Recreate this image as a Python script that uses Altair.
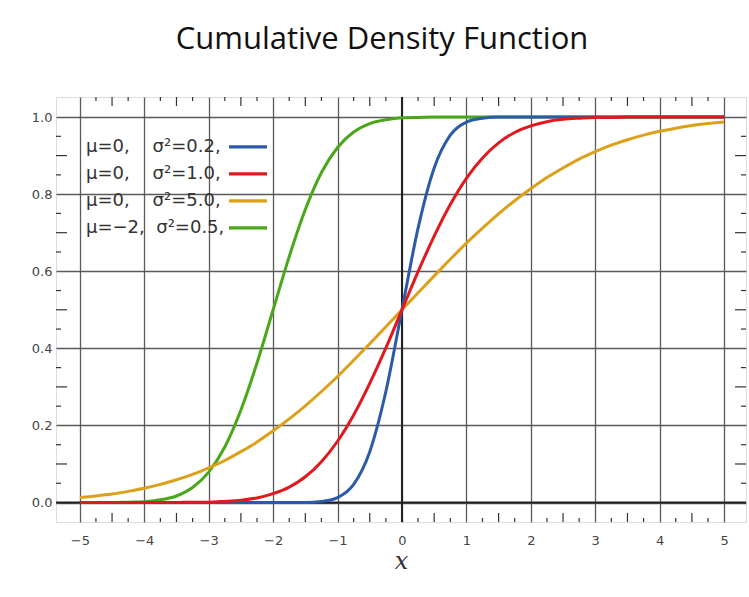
import altair as alt
import pandas as pd

# ---------------- data ----------------
xs = [-5, -4.75, -4.5, -4.25, -4, -3.75, -3.5, -3.25, -3, -2.75, -2.5, -2.25,
      -2, -1.75, -1.5, -1.25, -1, -0.75, -0.5, -0.25, 0, 0.25, 0.5, 0.75, 1,
      1.25, 1.5, 1.75, 2, 2.25, 2.5, 2.75, 3, 3.25, 3.5, 3.75, 4, 4.25, 4.5,
      4.75, 5]

blue = [0, 0, 0, 0, 0, 0, 0, 0, 0, 0, 0, 0, 0, 0,
        0.000, 0.003, 0.013, 0.047, 0.132, 0.288, 0.5,
        0.712, 0.868, 0.953, 0.987, 0.997, 1.000,
        1, 1, 1, 1, 1, 1, 1, 1, 1, 1, 1, 1, 1, 1]

red = [0, 0, 0, 0, 0,
       0.000, 0.000, 0.001, 0.001, 0.003, 0.006, 0.012, 0.023, 0.040, 0.067,
       0.106, 0.159, 0.227, 0.309, 0.401, 0.5,
       0.599, 0.691, 0.773, 0.841, 0.894, 0.933, 0.960, 0.977, 0.988, 0.994,
       0.997, 0.999, 0.999, 1.0, 1.0,
       1, 1, 1, 1, 1]

orange = [0.013, 0.017, 0.022, 0.029, 0.037, 0.047, 0.059, 0.073, 0.090, 0.109,
          0.132, 0.157, 0.186, 0.217, 0.251, 0.288, 0.327, 0.369, 0.412, 0.456,
          0.5,
          0.544, 0.588, 0.631, 0.673, 0.712, 0.749, 0.783, 0.814, 0.843, 0.868,
          0.891, 0.910, 0.927, 0.941, 0.953, 0.963, 0.971, 0.978, 0.983, 0.987]

green = [0.000, 0.000, 0.000, 0.001, 0.002, 0.007, 0.017, 0.039, 0.079, 0.144,
         0.240, 0.362, 0.5, 0.638, 0.760, 0.856, 0.921, 0.961, 0.983, 0.993,
         0.998, 0.999, 1.0,
         1, 1, 1, 1, 1, 1, 1, 1, 1, 1, 1, 1, 1, 1, 1, 1, 1, 1]

NB = "\u00a0"
labels = ["μ=0," + NB * 4 + "σ²=0.2,",
          "μ=0," + NB * 4 + "σ²=1.0,",
          "μ=0," + NB * 4 + "σ²=5.0,",
          "μ=−2," + NB * 2 + "σ²=0.5,"]
colors = ["#2b5ba8", "#e0191f", "#dca01a", "#4ba71a"]

x_major = [-5, -4, -3, -2, -1, 0, 1, 2, 3, 4, 5]
y_major = [0, 0.2, 0.4, 0.6, 0.8, 1.0]
x_minor_short = [-4.75, -4.25, -3.75, -3.25, -2.75, -2.25, -1.75, -1.25, -0.75,
                 -0.25, 0.25, 0.75, 1.25, 1.75, 2.25, 2.75, 3.25, 3.75, 4.25, 4.75]
x_minor_long = [-4.5, -3.5, -2.5, -1.5, -0.5, 0.5, 1.5, 2.5, 3.5, 4.5]
y_minor_short = [0.05, 0.15, 0.25, 0.35, 0.45, 0.55, 0.65, 0.75, 0.85, 0.95]
y_minor_long = [0.1, 0.3, 0.5, 0.7, 0.9]

# ---------------- layout ----------------
W, H = 690, 425
XDOM = [-5.37, 5.34]
YDOM = [-0.0505, 1.052]
FRAME = "#333333"
GRID = "#5a5a5a"

# draw order: green, blue, orange, red (red on top)
draw_order = [(3, green), (0, blue), (2, orange), (1, red)]
rows = []
for idx, ys in draw_order:
    for xv, yv in zip(xs, ys):
        rows.append({"x": xv, "y": yv, "series": labels[idx], "lab": labels[idx]})
df = pd.DataFrame(rows)

xscale = alt.Scale(domain=XDOM, nice=False, zero=False)
yscale = alt.Scale(domain=YDOM, nice=False, zero=False)

xaxis = alt.Axis(values=x_major, grid=True, gridColor=GRID, gridWidth=1.3,
                 gridOpacity=1, ticks=False, domain=False, labelPadding=12,
                 labelFont="DejaVu Sans", labelFontSize=13, labelColor="#444",
                 title="x", titleFont="DejaVu Serif", titleFontStyle="italic",
                 titleFontWeight="normal", titleFontSize=24, titleColor="#333",
                 titlePadding=2)
yaxis = alt.Axis(values=y_major, grid=True, gridColor=GRID, gridWidth=1.3,
                 gridOpacity=1, ticks=False, domain=False, labelPadding=4,
                 labelFont="DejaVu Sans", labelFontSize=13, labelColor="#444",
                 format=".1f", title=None)

lines = alt.Chart(df).mark_line(strokeWidth=3, interpolate="monotone").encode(
    x=alt.X("x:Q", scale=xscale, axis=xaxis),
    y=alt.Y("y:Q", scale=yscale, axis=yaxis),
    color=alt.Color("series:N",
                    scale=alt.Scale(domain=labels, range=colors),
                    legend=alt.Legend(orient="none", legendX=171, legendY=36.5,
                                      title=None, symbolType="stroke",
                                      symbolStrokeWidth=3.2, symbolSize=1444,
                                      clipHeight=26.7, rowPadding=0,
                                      labelExpr="''", padding=0)),
    opacity=alt.Opacity("lab:N",
                        scale=alt.Scale(domain=labels + ["(none)"],
                                        range=[1, 1, 1, 1, 1]),
                        legend=alt.Legend(orient="none", legendX=12, legendY=36.5,
                                          values=labels,
                                          title=None, symbolType="circle",
                                          symbolSize=1, symbolOpacity=0,
                                          symbolStrokeWidth=0,
                                          clipHeight=26.7, rowPadding=0,
                                          labelOffset=0,
                                          labelFont="DejaVu Sans", labelFontSize=18,
                                          labelColor="#333", labelLimit=300,
                                          padding=0)),
)

# axis-zero lines
zx = alt.Chart(pd.DataFrame({"v": [0]})).mark_rule(color="#222", strokeWidth=2).encode(
    x=alt.X("v:Q", scale=xscale, axis=xaxis))
zy = alt.Chart(pd.DataFrame({"v": [0]})).mark_rule(color="#222", strokeWidth=2).encode(
    y=alt.Y("v:Q", scale=yscale, axis=yaxis))

def xticks(vals, length):
    d = pd.DataFrame({"v": vals})
    top = alt.Chart(d).mark_rule(color=FRAME, strokeWidth=1.2).encode(
        x=alt.X("v:Q", scale=xscale, axis=xaxis), y=alt.value(0), y2=alt.value(length))
    bot = alt.Chart(d).mark_rule(color=FRAME, strokeWidth=1.2).encode(
        x=alt.X("v:Q", scale=xscale, axis=xaxis), y=alt.value(H), y2=alt.value(H - length))
    return [top, bot]

def yticks(vals, length):
    d = pd.DataFrame({"v": vals})
    left = alt.Chart(d).mark_rule(color=FRAME, strokeWidth=1.2).encode(
        y=alt.Y("v:Q", scale=yscale, axis=yaxis), x=alt.value(0), x2=alt.value(length))
    right = alt.Chart(d).mark_rule(color=FRAME, strokeWidth=1.2).encode(
        y=alt.Y("v:Q", scale=yscale, axis=yaxis), x=alt.value(W), x2=alt.value(W - length))
    return [left, right]

tick_layers = (xticks(x_minor_short, 4) + xticks(x_minor_long, 9)
               + yticks(y_minor_short, 5) + yticks(y_minor_long, 11))

chart = alt.layer(zx, zy, *tick_layers, lines).properties(
    width=W, height=H,
    padding={"left": 56, "top": 97, "right": 3, "bottom": 75},
    autosize=alt.AutoSizeParams(type="none"),
    title=alt.TitleParams("Cumulative Density Function", font="Open Sans",
                          fontSize=31, fontWeight="normal", color="#111",
                          anchor="middle", dx=-19, baseline="alphabetic", offset=16),
).configure_view(stroke=FRAME, strokeWidth=2.2).configure(background="white")

chart.save("out.html", embed_options={"renderer": "svg", "actions": False})
